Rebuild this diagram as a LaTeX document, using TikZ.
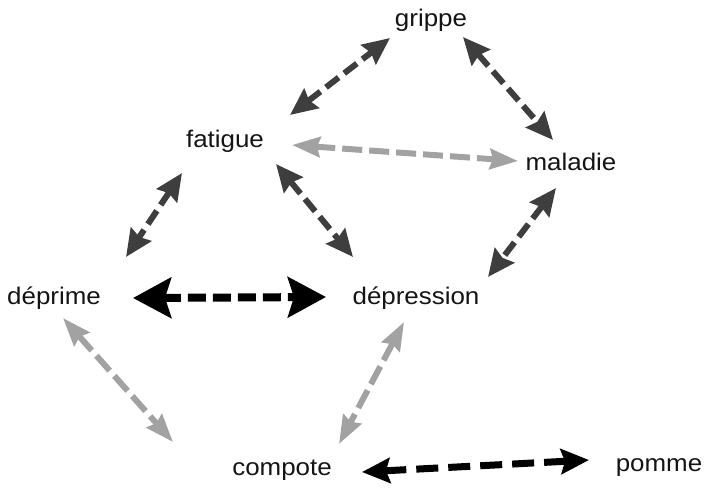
\documentclass[tikz,border=0pt]{standalone}
\usepackage{fontspec}
\setmainfont{Liberation Sans}[FakeStretch=1.08]
\usepackage{xcolor}
\usetikzlibrary{calc,positioning,arrows.meta}
\definecolor{darklink}{RGB}{62,62,62}
\definecolor{lightlink}{RGB}{162,162,162}
\tikzset{
>={Stealth[inset=2pt]},
  word/.style={
    inner sep=0pt,
    text height=1ex,
    text depth=0pt,
    text=black!92,
    font=\fontsize{12}{14}\selectfont},
}

\begin{document}
\begin{tikzpicture}[x=0.5pt, y=-0.5pt]
      \tikzset{
          linkbase/.style={line cap=butt},
          darkarrow/.style={linkbase, draw=darklink, line width=3pt, dash pattern=on 8pt off 3.5pt, {Stealth[length=13.5pt,width=12pt,inset=1.5pt]}-{Stealth[length=13.5pt,width=12pt,inset=1.5pt]}},
          lightarrow/.style={linkbase, draw=lightlink, line width=3pt, dash pattern=on 10pt off 3.5pt, {Stealth[length=14pt,width=10pt,inset=1.5pt]}-{Stealth[length=14pt,width=10pt,inset=1.5pt]}},
          bigarrow/.style={linkbase, draw=black, line width=4pt, dash pattern=on 9pt off 3.5pt, {Stealth[length=19pt,width=20pt,inset=3pt]}-{Stealth[length=19pt,width=20pt,inset=3pt]}},
          blackarrow/.style={linkbase, draw=black, line width=3.5pt, dash pattern=on 11pt off 5pt, {Stealth[length=14pt,width=12.5pt,inset=2pt]}-{Stealth[length=14pt,width=12.5pt,inset=2pt]}},
      }

      \useasboundingbox (0,0) rectangle (705,488);

      \node[word] (item1) at (431,21) {grippe};
      \node[word, on grid, below left=60.5pt and 103pt of item1] (item2) {fatigue};
      \node[word, on grid, below right=72pt and 70pt of item1] (item3) {maladie};
      \node[word, on grid, below left=78.5pt and 85.5pt of item2] (item4) {déprime};
      \node[word, on grid, right=181pt of item4] (item5) {dépression};
      \node[word, on grid, below left=85.5pt and 67pt of item5] (item6) {compote};
      \node[word, on grid, above right=2pt and 188.5pt of item6] (item7) {pomme};

      \path[darkarrow] ($(item2)+(65,-27)$) -- ($(item1)+(-41,17)$);
      \path[darkarrow] ($(item1)+(32,16)$) -- ($(item3)+(-18,-25)$);
      \path[lightarrow] ($(item2)+(67,3)$) -- ($(item3)+(-53,-4)$);
      \path[darkarrow] ($(item2)+(-43,31)$) -- ($(item4)+(72,-42)$);
      \path[darkarrow] ($(item2)+(51,22)$) -- ($(item5)+(-63,-42)$);
      \path[darkarrow] ($(item3)+(-15,23)$) -- ($(item5)+(72,-22)$);
      \path[bigarrow] ($(item4)+(79,-1)$) -- ($(item5)+(-90,-2)$);
      \path[lightarrow] ($(item4)+(9,19)$) -- ($(item6)+(-109,-28)$);
      \path[lightarrow] ($(item5)+(-12,23)$) -- ($(item6)+(57,-26)$);
      \path[blackarrow] ($(item6)+(80,2)$) -- ($(item7)+(-70,-6)$);

      \end{tikzpicture}
\end{document}
